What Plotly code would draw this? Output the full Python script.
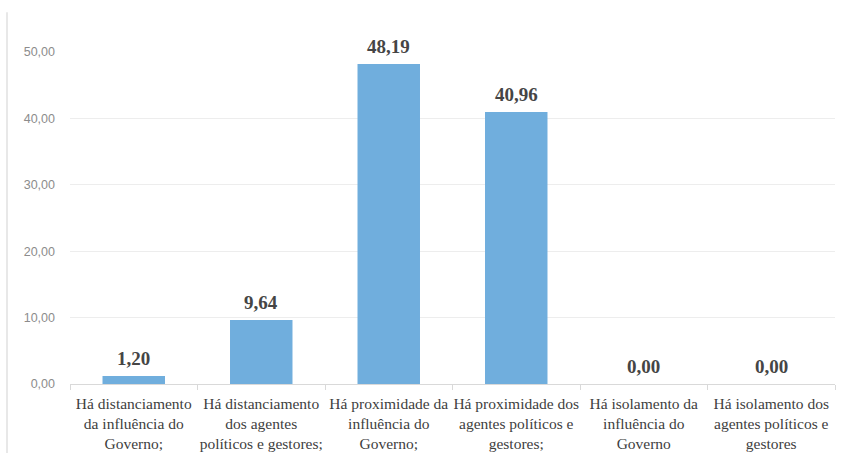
import plotly.graph_objects as go

categories = [
    "Há distanciamento<br>da influência do<br>Governo;",
    "Há distanciamento<br>dos agentes<br>políticos e gestores;",
    "Há proximidade da<br>influência do<br>Governo;",
    "Há proximidade dos<br>agentes políticos e<br>gestores;",
    "Há isolamento da<br>influência do<br>Governo",
    "Há isolamento dos<br>agentes políticos e<br>gestores",
]
values = [1.20, 9.64, 48.19, 40.96, 0.00, 0.00]
value_labels = ["1,20", "9,64", "48,19", "40,96", "0,00", "0,00"]
y_ticks = [0, 10, 20, 30, 40, 50]

SERIF = "Times New Roman"

fig = go.Figure(
    go.Bar(
        x=categories,
        y=values,
        marker=dict(color="#70AEDD", line=dict(width=0)),
        width=0.49,
        cliponaxis=False,
    )
)

for cat, val, lab in zip(categories, values, value_labels):
    fig.add_annotation(
        x=cat,
        y=val,
        text="<b>" + lab + "</b>",
        showarrow=False,
        yanchor="bottom",
        yshift=5,
        font=dict(family=SERIF, size=19, color="#454545"),
    )

fig.update_layout(
    width=845,
    height=453,
    margin=dict(l=70, r=10, t=52, b=69),
    paper_bgcolor="white",
    plot_bgcolor="white",
    separators=",.",
    showlegend=False,
    font=dict(family=SERIF),
    xaxis=dict(
        type="category",
        automargin=False,
        tickson="boundaries",
        ticks="outside",
        ticklen=5,
        tickcolor="#D9D9D9",
        showline=True,
        linecolor="#D9D9D9",
        linewidth=1,
        showgrid=False,
        tickangle=0,
        ticklabelstandoff=5,
        tickfont=dict(family=SERIF, size=15.5, color="#404040"),
    ),
    yaxis=dict(
        range=[0, 50],
        automargin=False,
        tickvals=y_ticks,
        tickformat=".2f",
        showgrid=True,
        gridcolor="#EDEDED",
        gridwidth=1,
        zeroline=False,
        showline=False,
        ticks="",
        ticklabelstandoff=14,
        tickfont=dict(family="Liberation Sans", size=12.5, color="#8C8C8C"),
    ),
    shapes=[
        dict(
            type="line",
            xref="paper",
            yref="paper",
            x0=-63 / 765,
            x1=-63 / 765,
            y0=1.12,
            y1=-0.21,
            line=dict(color="#E0E0E0", width=1.5),
        )
    ],
    bargap=0.51,
)

fig.write_html("out.html")
